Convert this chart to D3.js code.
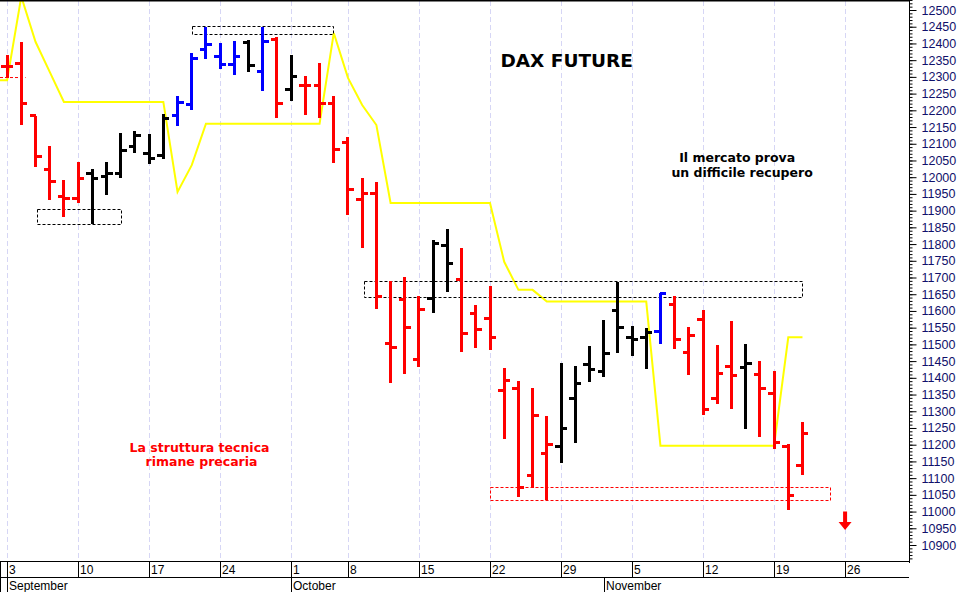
<!DOCTYPE html>
<html><head><meta charset="utf-8">
<script src="https://cdn.jsdelivr.net/npm/d3@7"></script>
<style>body{margin:0;background:#fff}svg{display:block}</style>
</head><body>
<svg id="chart" width="958" height="592"></svg>
<script>
// ---------- DATA ----------
const holidays = ["2018-10-03"];
const calendarStart = "2018-08-31", calendarEnd = "2018-11-30";
const firstBarDate = "2018-09-03";
const open  = [12330,12341,12183,12022,11942,11937,12010,12002,12010,12091,12071,12066,12183,12218,12382,12362,12336,12402,12316,12412,12263,12273,12273,12221,12103,11934,11952,11503,11633,11454,11638,11797,11693,11593,11578,11362,11367,11107,11174,11196,11339,11439,11418,11601,11521,11521,11540,11620,11476,11573,11339,11434,11431,11409,11352,11194,11137];
const high  = [12365,12405,12183,12094,11992,12044,12024,12045,12133,12138,12129,12189,12244,12371,12450,12400,12408,12410,12450,12420,12365,12303,12342,12244,12119,11999,11987,11691,11701,11645,11812,11844,11787,11618,11675,11429,11391,11371,11286,11444,11434,11496,11573,11688,11555,11548,11655,11645,11553,11603,11498,11570,11500,11449,11420,11202,11267];
const low   = [12296,12156,12031,11932,11882,11922,11860,11947,11999,12071,12039,12055,12153,12201,12353,12324,12306,12316,12259,12176,12228,12186,12176,12042,11887,11787,11605,11384,11412,11431,11593,11658,11478,11490,11483,11216,11043,11070,11035,11146,11204,11387,11401,11473,11465,11426,11501,11485,11409,11289,11322,11306,11246,11222,11187,11005,11108];
const close = [12330,12221,12061,11987,11937,11997,11997,12010,12081,12126,12057,12176,12223,12356,12397,12336,12362,12333,12405,12221,12301,12273,12221,12083,11964,11952,11644,11490,11551,11603,11802,11741,11533,11543,11521,11391,11073,11286,11201,11249,11384,11424,11473,11551,11515,11535,11653,11516,11527,11306,11414,11407,11444,11369,11206,11048,11234];
const barColor = "rrrrrrkkkkkkbbbbbkbrkrrrrrrrrrkkrrrrrrrkkkkkkkbrrrrrkrrrr".split("");
// trailing stop (yellow), starting at 2018-08-31
const stopLine = [12290,12290,12540,12405,12315,12225,12225,12225,12225,12225,12225,12225,12225,11956,12036,12160,12160,12160,12160,12160,12160,12160,12160,12160,12431,12297,12216,12156,11923,11923,11923,11923,11923,11923,11923,11923,11747,11663,11663,11628,11628,11628,11628,11628,11628,11628,11628,11197,11197,11197,11197,11197,11197,11197,11197,11197,11521,11521];
const yMajorTicks = d3.range(10900, 12501, 50);
const yMinorTicks = d3.range(10860, 12531, 10);
const monthNames = ["September","October","November"];
// annotation boxes: [start date, end date, day offset start, day offset end, low, high]
const blackBoxes = [["2018-09-05","2018-09-13",0.1,0,11860,11905],["2018-09-20","2018-10-05",0.05,-0.03,12427,12452],["2018-10-09","2018-11-21",0.1,-0.04,11643,11690]];
const redBoxes = [["2018-10-22","2018-11-23",0,-0.05,11035,11073]];
const redDashLevel = {from:"2018-08-31", to:"2018-09-04", fromOff:0.5, toOff:0.3, value:12298};
const arrow = {date:"2018-11-26", top:11000, neck:10969, tip:10945};
const notes = [
  {text:"DAX FUTURE", x:"2018-10-29", off:0.4, v:12330, size:18.5, color:"#000"},
  {text:"Il mercato prova", x:"2018-11-14", off:0.4, v:12045, size:12.5, color:"#000"},
  {text:"un difficile recupero", x:"2018-11-14", off:0.75, v:12002, size:12.5, color:"#000"},
  {text:"La struttura tecnica", x:"2018-09-20", off:0.55, v:11178, size:12.5, color:"#f00"},
  {text:"rimane precaria", x:"2018-09-20", off:0.69, v:11135, size:12.5, color:"#f00"}
];

// ---------- CALENDAR ----------
const parse = d3.utcParse("%Y-%m-%d"), fmt = d3.utcFormat("%Y-%m-%d");
const days = d3.utcDays(parse(calendarStart), d3.utcDay.offset(parse(calendarEnd),1))
  .filter(d => d.getUTCDay()!==0 && d.getUTCDay()!==6 && !holidays.includes(fmt(d)));
const dayIdx = new Map(days.map((d,i)=>[fmt(d), i]));
const i0 = dayIdx.get(firstBarDate);

// ---------- SCALES ----------
const PR = 909, PB = 561;
const x = d3.scaleLinear().domain([i0 - 0.5, days.length - 0.5]).range([0, PR]);
const xd = (s, off=0) => x(dayIdx.get(s) + off);
const y = d3.scaleLinear().domain([10900, 12500]).range([545, 10]);
const colorMap = {r:"#ff0000", k:"#000000", b:"#0000ff"};

const svg = d3.select("#chart");
svg.append("rect").attr("width",958).attr("height",592).attr("fill","#fff");
svg.append("defs").append("clipPath").attr("id","clip")
  .append("rect").attr("x",0).attr("y",1).attr("width",PR).attr("height",PB-1);

// grid (Mondays)
const mondays = days.map((d,i)=>({d,i})).filter(o=>o.d.getUTCDay()===1);
svg.append("g").selectAll("line").data(mondays).join("line")
  .attr("x1",o=>Math.round(x(o.i))+0.5).attr("x2",o=>Math.round(x(o.i))+0.5)
  .attr("y1",1).attr("y2",PB)
  .attr("stroke","#d6d6f5").attr("stroke-dasharray","5,3");

const plot = svg.append("g").attr("clip-path","url(#clip)");

// yellow trailing stop
plot.append("path").datum(stopLine)
  .attr("fill","none").attr("stroke","#ffff00").attr("stroke-width",2)
  .attr("d", d3.line().x((v,i)=>x(i)).y(v=>y(v)));

// red dashed level
plot.append("line")
  .attr("x1", xd(redDashLevel.from, redDashLevel.fromOff)).attr("x2", xd(redDashLevel.to, redDashLevel.toOff))
  .attr("y1", y(redDashLevel.value)).attr("y2", y(redDashLevel.value))
  .attr("stroke","#ff0000").attr("stroke-dasharray","3,2");

// boxes
function drawBoxes(list, col){
  plot.append("g").selectAll("rect").data(list).join("rect")
    .attr("x", b=>Math.round(xd(b[0],b[2]))+0.5)
    .attr("y", b=>Math.round(y(b[5]))+0.5)
    .attr("width", b=>Math.round(xd(b[1],b[3])-xd(b[0],b[2])))
    .attr("height", b=>Math.round(y(b[4])-y(b[5])))
    .attr("fill","none").attr("stroke",col).attr("stroke-dasharray","3,2");
}
drawBoxes(blackBoxes, "#000");
drawBoxes(redBoxes, "#ff0000");

// OHLC bars
const bars = open.map((o,k)=>({i:i0+k, o, h:high[k], l:low[k], c:close[k], col:colorMap[barColor[k]]}));
const bg = plot.append("g").attr("shape-rendering","crispEdges");
const bar = bg.selectAll("g").data(bars).join("g").attr("stroke",b=>b.col).attr("stroke-width",3);
bar.append("line").attr("x1",b=>x(b.i)).attr("x2",b=>x(b.i)).attr("y1",b=>y(b.h)).attr("y2",b=>y(b.l));
bar.append("line").attr("x1",b=>x(b.i)-6).attr("x2",b=>x(b.i)).attr("y1",b=>y(b.o)).attr("y2",b=>y(b.o));
bar.append("line").attr("x1",b=>x(b.i)).attr("x2",b=>x(b.i)+6).attr("y1",b=>y(b.c)).attr("y2",b=>y(b.c));

// arrow
const ax = xd(arrow.date);
plot.append("path").attr("fill","#ff0000")
  .attr("d", `M${ax-2},${y(arrow.top)}H${ax+2}V${y(arrow.neck)}H${ax+6.5}L${ax},${y(arrow.tip)}L${ax-6.5},${y(arrow.neck)}H${ax-2}Z`);

// notes
svg.append("g").selectAll("text").data(notes).join("text")
  .attr("x", n=>xd(n.x, n.off)).attr("y", n=>y(n.v))
  .attr("text-anchor","middle")
  .attr("font-family","'DejaVu Sans', Verdana, sans-serif").attr("font-weight","bold")
  .attr("font-size", n=>n.size).attr("fill", n=>n.color)
  .text(n=>n.text);

// frame
svg.append("line").attr("x1",0).attr("x2",PR).attr("y1",0.75).attr("y2",0.75).attr("stroke","#000").attr("stroke-width",1.5);
svg.append("line").attr("x1",PR+0.5).attr("x2",PR+0.5).attr("y1",0).attr("y2",PB+2).attr("stroke","#000");
svg.append("line").attr("x1",0).attr("x2",PR).attr("y1",PB+0.5).attr("y2",PB+0.5).attr("stroke","#000");
svg.append("line").attr("x1",0).attr("x2",PR).attr("y1",577.5).attr("y2",577.5).attr("stroke","#000");
svg.append("line").attr("x1",0.5).attr("x2",0.5).attr("y1",PB).attr("y2",592).attr("stroke","#000");

// y axis (right)
const yAxisG = svg.append("g").attr("transform",`translate(${PR+0.5},0)`);
yAxisG.call(d3.axisRight(y).tickValues(yMinorTicks).tickSize(3).tickFormat(""));
yAxisG.call(g=>g.select(".domain").remove());
const yMaj = svg.append("g").attr("transform",`translate(${PR+0.5},0)`)
  .call(d3.axisRight(y).tickValues(yMajorTicks).tickSize(7).tickPadding(5).tickFormat(d3.format("d")));
yMaj.select(".domain").remove();
yMaj.selectAll("text").attr("font-family","'Liberation Sans', Arial, sans-serif").attr("font-size",12.5).attr("fill","#10106a");
svg.selectAll(".tick line").attr("stroke","#000");

// week row
const wk = svg.append("g");
wk.selectAll("line").data(mondays).join("line")
  .attr("x1",o=>Math.round(x(o.i))+0.5).attr("x2",o=>Math.round(x(o.i))+0.5)
  .attr("y1",PB).attr("y2",577).attr("stroke","#000");
wk.selectAll("text").data(mondays).join("text")
  .attr("x",o=>Math.round(x(o.i))+2).attr("y",574)
  .attr("font-family","'Liberation Sans', Arial, sans-serif").attr("font-size",12)
  .text(o=>o.d.getUTCDate());

// month row
const monthStarts = monthNames.map((m,k)=>days.map((d,i)=>({d,i})).find(o=>o.d.getUTCMonth()===8+k && o.i>=i0));
const mg = svg.append("g");
mg.selectAll("line").data(monthStarts).join("line")
  .attr("x1",o=>Math.round(x(o.i))+0.5).attr("x2",o=>Math.round(x(o.i))+0.5)
  .attr("y1",577).attr("y2",592).attr("stroke","#000");
mg.selectAll("text").data(monthStarts).join("text")
  .attr("x",o=>Math.round(x(o.i))+2).attr("y",590)
  .attr("font-family","'Liberation Sans', Arial, sans-serif").attr("font-size",12)
  .text((o,k)=>monthNames[k]);
</script>
</body></html>
